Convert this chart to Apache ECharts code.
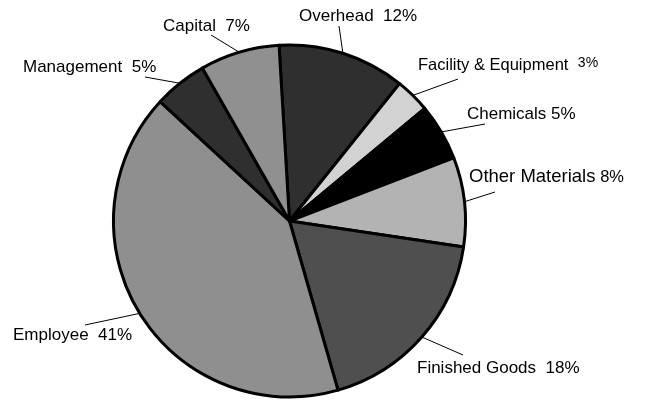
<!DOCTYPE html>
<html>
<head>
<meta charset="utf-8">
<script src="https://cdn.jsdelivr.net/npm/echarts@6/dist/echarts.min.js"></script>
<style>
  html, body { margin: 0; padding: 0; background: #fff; }
  #costPie { width: 649px; height: 405px; }
</style>
</head>
<body>
<div id="costPie"></div>
<script>
// cost breakdown, clockwise from the top
const categories = ['Overhead', 'Facility & Equipment', 'Chemicals', 'Other Materials', 'Finished Goods', 'Employee', 'Management', 'Capital']
const shares = [11.7, 3.2, 5.2, 8.2, 18.2, 41.3, 4.9, 7.3]
const sliceColors = ['#2f2f2f', '#d2d2d2', '#000000', '#b3b3b3', '#4f4f4f', '#8f8f8f', '#2f2f2f', '#909090']

// where each label sits and where its leader line ends
const labelAt = [[299, 16], [418, 65], [467, 114], [469, 177], [417, 368], [13, 335], [23, 67], [163, 26]]
const lineEnd = [[339, 26], [458, 79], [485, 124], [495, 192], [463, 355], [85, 325], [145, 77], [211, 35]]
const nameGap = ['  ', '  ', ' ', ' ', '  ', '  ', '  ', '  ']

const chart = echarts.init(document.getElementById('costPie'), null, { renderer: 'canvas' })

const pieData = categories.map((name, i) => ({
  name: name,
  value: shares[i],
  itemStyle: { color: sliceColors[i] }
}))

chart.setOption({
  animation: false,
  backgroundColor: '#fff',
  series: [{
    type: 'pie',
    center: [289.5, 221],
    radius: 176,
    startAngle: 93.4,
    clockwise: true,
    avoidLabelOverlap: false,
    itemStyle: {
      borderColor: '#000',
      borderWidth: 3
    },
    label: {
      show: true,
      position: 'outside',
      color: '#000',
      fontFamily: 'Liberation Sans, Arial, sans-serif',
      fontSize: 17,
      formatter: function(p) {
        const i = p.dataIndex
        return '{n' + i + '|' + p.name + '}' + nameGap[i] + '{p' + i + '|' + Math.round(p.value) + '%}'
      },
      rich: {
        n1: { fontSize: 16.5 },
        p1: { fontSize: 14, padding: [0, 0, 3, 0] },
        n3: { fontSize: 18.5 },
        p3: { fontSize: 16.5 }
      }
    },
    labelLine: {
      show: true,
      smooth: false,
      lineStyle: { color: '#000', width: 1 }
    },
    labelLayout: function(params) {
      const i = params.dataIndex
      const start = params.labelLinePoints ? params.labelLinePoints[0] : lineEnd[i]
      return {
        x: labelAt[i][0],
        y: labelAt[i][1],
        align: 'left',
        verticalAlign: 'middle',
        labelLinePoints: [start, lineEnd[i], lineEnd[i]]
      }
    },
    data: pieData
  }]
})
</script>
</body>
</html>
